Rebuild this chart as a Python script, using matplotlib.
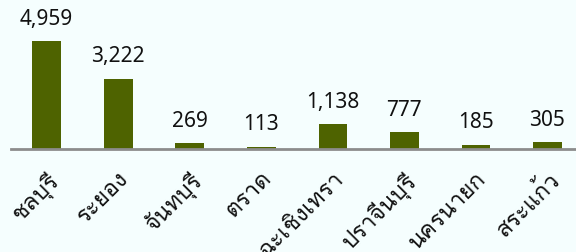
import matplotlib
matplotlib.use("Agg")
import matplotlib.pyplot as plt
from matplotlib import font_manager
from matplotlib.ft2font import FT2Font

provinces = ["ชลบุรี", "ระยอง", "จันทบุรี", "ตราด", "ฉะเชิงเทรา", "ปราจีนบุรี", "นครนายก", "สระแก้ว"]
values = [4959, 3222, 269, 113, 1138, 777, 185, 305]

# find installed fonts with Thai glyphs, prefer looped sans styles
thai_names = []
for fe in font_manager.fontManager.ttflist:
    try:
        cm = FT2Font(fe.fname).get_charmap()
    except Exception:
        continue
    if 0x0E0A in cm and 0x0E1A in cm and fe.name not in thai_names:
        thai_names.append(fe.name)
preferred = ["Tahoma", "Loma", "Garuda", "Noto Sans Thai Looped", "Waree",
             "Umpush", "Sarabun", "Norasi", "Kinnari"]
thai_family = None
for p in preferred:
    if p in thai_names:
        thai_family = p
        break
if thai_family is None and thai_names:
    thai_family = thai_names[0]
families = ([thai_family] if thai_family else []) + ["DejaVu Sans"]

bg = "#F5FEFE"
bar_color = "#4E6300"

fig = plt.figure(figsize=(5.76, 2.53), dpi=100, facecolor=bg)
ax = fig.add_axes([0.019, 0.407, 0.981, 0.593])
ax.set_facecolor(bg)

x = list(range(len(values)))
ax.bar(x, values, width=0.4, color=bar_color, zorder=2)
ax.set_xlim(-0.5, 7.4)
ax.set_ylim(0, 4959 / 108 * 150)

for xi, v in zip(x, values):
    ax.annotate(f"{v:,}", (xi, v), xytext=(0, 9), textcoords="offset points",
                ha="center", va="bottom", fontsize=15, color="#111111",
                family=["Noto Sans", "DejaVu Sans"])

for s in ["top", "right", "left"]:
    ax.spines[s].set_visible(False)
ax.spines["bottom"].set_color("#8C8C8C")
ax.spines["bottom"].set_linewidth(2)
ax.set_yticks([])
ax.set_xticks(x)
ax.set_xticklabels(provinces, rotation=45, ha="right", rotation_mode="anchor",
                   fontsize=16.5, family=families, color="#111111")
ax.tick_params(axis="x", length=0, pad=13)

fig.savefig("out.png", dpi=100, facecolor=bg)
